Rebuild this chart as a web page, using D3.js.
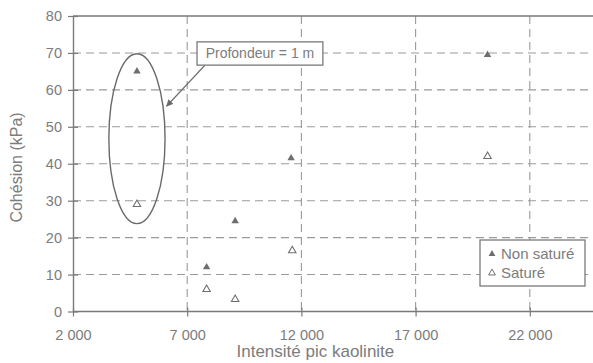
<!DOCTYPE html>
<html>
<head>
<meta charset="utf-8">
<script src="https://cdn.jsdelivr.net/npm/d3@7"></script>
<style>
  html, body { margin: 0; padding: 0; background: #fff; }
  svg { display: block; font-family: "Liberation Sans", Arial, sans-serif; }
</style>
</head>
<body>
<svg id="chart" width="593" height="363"></svg>
<script>
// Kaolinite peak intensity vs. cohesion
const intensityNonSat = [4800, 7850, 9100, 11550, 20150];
const cohesionNonSat  = [65, 12, 24.5, 41.5, 69.5];
const intensitySat    = [4800, 7850, 9100, 11600, 20150];
const cohesionSat     = [29, 6, 3.3, 16.5, 42];
const xTicks = [2000, 7000, 12000, 17000, 22000];
const yTicks = [0, 10, 20, 30, 40, 50, 60, 70, 80];
const seriesNames = ["Non saturé", "Saturé"];
const annotationText = "Profondeur = 1 m";

const W = 593, H = 363;
const ink = "#7a7a7a", gridCol = "#9a9a9a", textCol = "#7c7c7c";

const svg = d3.select("#chart");
const x = d3.scaleLinear().domain([2000, 27000]).range([73, 644]);
const y = d3.scaleLinear().domain([0, 80]).range([311.5, 16]);
const fmt = d => d3.format(",")(d).replace(/,/g, " ");

// Grid
const grid = svg.append("g");
grid.selectAll("line.h").data(yTicks.filter(v => v > 0 && v < 80)).join("line")
  .attr("x1", x(2000)).attr("x2", W)
  .attr("y1", d => y(d)).attr("y2", d => y(d))
  .attr("stroke", gridCol).attr("stroke-width", 1.1).attr("stroke-dasharray", "8,5");
grid.selectAll("line.v").data(xTicks.filter(v => v > 2000)).join("line")
  .attr("x1", d => x(d)).attr("x2", d => x(d))
  .attr("y1", y(80)).attr("y2", y(0))
  .attr("stroke", gridCol).attr("stroke-width", 1.1).attr("stroke-dasharray", "8,5");
// Top border
svg.append("line").attr("x1", x(2000)).attr("x2", W).attr("y1", y(80)).attr("y2", y(80))
  .attr("stroke", ink).attr("stroke-width", 1.3);

// Axes
const xAxis = svg.append("g").attr("transform", `translate(0,${y(0)})`)
  .call(d3.axisBottom(x).tickValues(xTicks).tickFormat(fmt).tickSizeInner(6).tickSizeOuter(0).tickPadding(12));
const yAxis = svg.append("g").attr("transform", `translate(${x(2000)},0)`)
  .call(d3.axisLeft(y).tickValues(yTicks).tickSizeInner(5).tickSizeOuter(0).tickPadding(6));
[xAxis, yAxis].forEach(a => {
  a.select(".domain").attr("stroke", ink).attr("stroke-width", 1.4);
  a.selectAll(".tick line").attr("stroke", ink).attr("stroke-width", 1.2);
  a.selectAll(".tick text").attr("fill", textCol).attr("font-size", 14.5)
    .attr("font-family", "Liberation Sans, Arial, sans-serif");
});
// Crossing ticks
xAxis.selectAll(".tick line").attr("y1", -4).attr("y2", 5);
yAxis.selectAll(".tick line").attr("x1", -5).attr("x2", 5);
xAxis.select(".domain").attr("d", `M${x(2000)},0H${W}`);

// Axis titles
svg.append("text").attr("x", x(12000) + 14).attr("y", 357)
  .attr("text-anchor", "middle").attr("font-size", 17).attr("fill", textCol)
  .text("Intensité pic kaolinite");
svg.append("text").attr("transform", `translate(22,${y(39)}) rotate(-90)`)
  .attr("text-anchor", "middle").attr("font-size", 16).attr("fill", textCol)
  .text("Cohésion (kPa)");

// Markers
const tri = d3.symbol().type(d3.symbolTriangle).size(24);
const nonSat = intensityNonSat.map((v, i) => ({x: v, y: cohesionNonSat[i]}));
const sat = intensitySat.map((v, i) => ({x: v, y: cohesionSat[i]}));
svg.append("g").selectAll("path").data(nonSat).join("path")
  .attr("d", tri).attr("transform", d => `translate(${x(d.x)},${y(d.y)})`)
  .attr("fill", "#6e6e6e");
svg.append("g").selectAll("path").data(sat).join("path")
  .attr("d", tri).attr("transform", d => `translate(${x(d.x)},${y(d.y)})`)
  .attr("fill", "none").attr("stroke", "#6e6e6e").attr("stroke-width", 1.1);

// Ellipse grouping the 1 m depth samples
const ell = {cx: 4800, cy: 46.8, rx: 1230, ry: 23};
svg.append("ellipse")
  .attr("cx", x(ell.cx)).attr("cy", y(ell.cy))
  .attr("rx", x(ell.cx + ell.rx) - x(ell.cx)).attr("ry", y(ell.cy - ell.ry) - y(ell.cy))
  .attr("fill", "none").attr("stroke", "#6a6a6a").attr("stroke-width", 1.4);

// Callout box and arrow
svg.append("defs").append("marker").attr("id", "arr")
  .attr("viewBox", "0 0 10 10").attr("refX", 9).attr("refY", 5)
  .attr("markerWidth", 7).attr("markerHeight", 7).attr("orient", "auto-start-reverse")
  .attr("markerUnits", "userSpaceOnUse")
  .append("path").attr("d", "M0,0L10,5L0,10z").attr("fill", "#6a6a6a");
const box = {x0: 7430, x1: 12940, y0: 73, y1: 66.7};
svg.append("line")
  .attr("x1", x(7780)).attr("y1", y(box.y1))
  .attr("x2", x(ell.cx + 1300)).attr("y2", y(55.6))
  .attr("stroke", "#6a6a6a").attr("stroke-width", 1.4).attr("marker-end", "url(#arr)");
svg.append("rect")
  .attr("x", x(box.x0)).attr("y", y(box.y0))
  .attr("width", x(box.x1) - x(box.x0)).attr("height", y(box.y1) - y(box.y0))
  .attr("fill", "#fff").attr("stroke", ink).attr("stroke-width", 1.3);
svg.append("text")
  .attr("x", (x(box.x0) + x(box.x1)) / 2).attr("y", (y(box.y0) + y(box.y1)) / 2 + 5)
  .attr("text-anchor", "middle").attr("font-size", 14).attr("fill", textCol)
  .text(annotationText);

// Legend
const lg = svg.append("g").attr("transform", "translate(480,240)");
lg.append("rect").attr("width", 105).attr("height", 46)
  .attr("fill", "#fff").attr("stroke", ink).attr("stroke-width", 1.3);
const legTri = d3.symbol().type(d3.symbolTriangle).size(20);
seriesNames.forEach((name, i) => {
  const row = lg.append("g").attr("transform", `translate(12,${14 + i * 19})`);
  row.append("path").attr("d", legTri)
    .attr("fill", i === 0 ? "#6e6e6e" : "none")
    .attr("stroke", i === 0 ? "none" : "#6e6e6e").attr("stroke-width", 1);
  row.append("text").attr("x", 9).attr("y", 5).attr("font-size", 15)
    .attr("fill", textCol).text(name);
});
</script>
</body>
</html>
